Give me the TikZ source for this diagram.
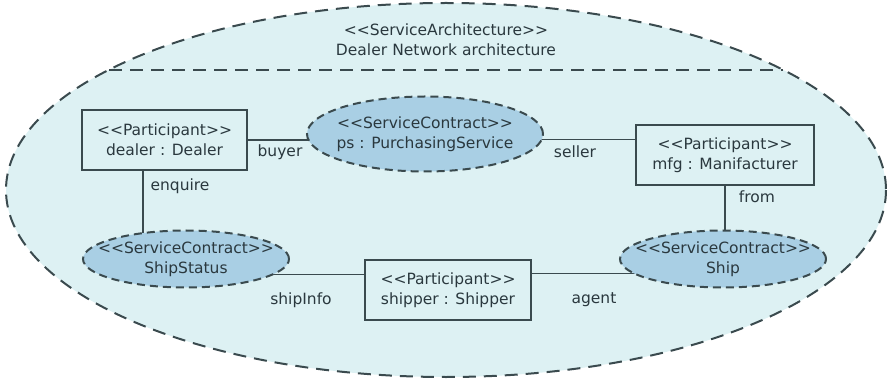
\documentclass[tikz,border=0pt]{standalone}
\usepackage{fontspec}
\setmainfont{DejaVu Sans}
\usetikzlibrary{shapes.geometric,calc}
\pgfdeclarelayer{bg}
\pgfdeclarelayer{conn}
\pgfsetlayers{bg,conn,main}
\definecolor{archfill}{HTML}{DDF1F3}
\definecolor{contractfill}{HTML}{A9CFE4}
\definecolor{inkline}{HTML}{3A4A4E}
\definecolor{inktext}{HTML}{2A383E}
\tikzset{
  txt/.style={font=\fontsize{15.5}{20}\selectfont, text=inktext, align=center},
  participant/.style={txt, draw=inkline, line width=1.9pt, fill=archfill,
    rectangle, inner sep=0pt},
  % the ellipse keeps its given size; its two text lines sit in a centred label
  contract/.style={ellipse, draw=inkline, line width=2pt, fill=contractfill,
    dash pattern=on 8pt off 5pt, inner sep=0pt,
    label={[txt, inner sep=0pt]center:#1}},
  link/.style={draw=inkline, line width=1.9pt},
  role/.style={txt, inner sep=0pt},
}
\begin{document}
\begin{tikzpicture}[x=1pt, y=-1pt]
\useasboundingbox (0,0) rectangle (888,379);

% service architecture boundary
\begin{pgfonlayer}{bg}
  \draw[fill=archfill, draw=inkline, line width=2pt, dash pattern=on 13pt off 8pt]
    (446,190) ellipse [x radius=440, y radius=187];
  \coordinate (hdrL) at (109,70);
  \coordinate (hdrR) at (783,70);
  \draw[draw=inkline, line width=2pt, dash pattern=on 13pt off 8pt] (hdrL) -- (hdrR);
\end{pgfonlayer}

\node[txt, text width=400pt] (title) at (446,40) {{<}{<}ServiceArchitecture{>}{>}\\Dealer Network architecture};

% participants
\node[participant, minimum width=165pt, minimum height=60pt] (dealer) at (164.5,140)
  {{<}{<}Participant{>}{>}\\dealer : Dealer};
\node[participant, minimum width=178pt, minimum height=60pt] (mfg) at (725,155)
  {{<}{<}Participant{>}{>}\\mfg : Manifacturer};
\node[participant, minimum width=166pt, minimum height=60pt] (shipper) at (448,290)
  {{<}{<}Participant{>}{>}\\shipper : Shipper};

% service contracts
\node[contract={{<}{<}ServiceContract{>}{>}\\ps : PurchasingService},
  minimum width=236pt, minimum height=75pt] (ps) at (425,134) {};
\node[contract={{<}{<}ServiceContract{>}{>}\\ShipStatus},
  minimum width=206pt, minimum height=57pt] (ss) at (186,259) {};
\node[contract={{<}{<}ServiceContract{>}{>}\\Ship},
  minimum width=206pt, minimum height=57pt] (ship) at (723,259) {};

% role connectors
\coordinate (dealerFoot) at ($(dealer.south west)!0.37!(dealer.south east)$);
\coordinate (mfgIn) at ($(mfg.north west)!0.25!(mfg.south west)$);
\coordinate (shipperIn) at ($(shipper.north west)!0.25!(shipper.south west)$);
\coordinate (shipperOut) at ($(shipper.north east)!0.233!(shipper.south east)$);
\begin{pgfonlayer}{conn}
  \draw[link] (dealer.east) -- (ps.center |- dealer.east);
  \draw[link] (ps.center |- mfgIn) -- (mfgIn);
  \draw[link] (dealerFoot) -- (dealerFoot |- ss.center);
  \draw[link] (mfg.south) -- (mfg.south |- ship.center);
  \draw[link] (ss.center |- shipperIn) -- (shipperIn);
  \draw[link] (shipperOut) -- (ship.center |- shipperOut);
\end{pgfonlayer}

% role names
\node[role] (buyer) at (280,152) {buyer};
\node[role] (seller) at (575,152) {seller};
\node[role] (enquire) at (180,186) {enquire};
\node[role] (from) at (757,197) {from};
\node[role] (shipInfo) at (301,300) {shipInfo};
\node[role] (agent) at (594,300) {agent};
\end{tikzpicture}
\end{document}
